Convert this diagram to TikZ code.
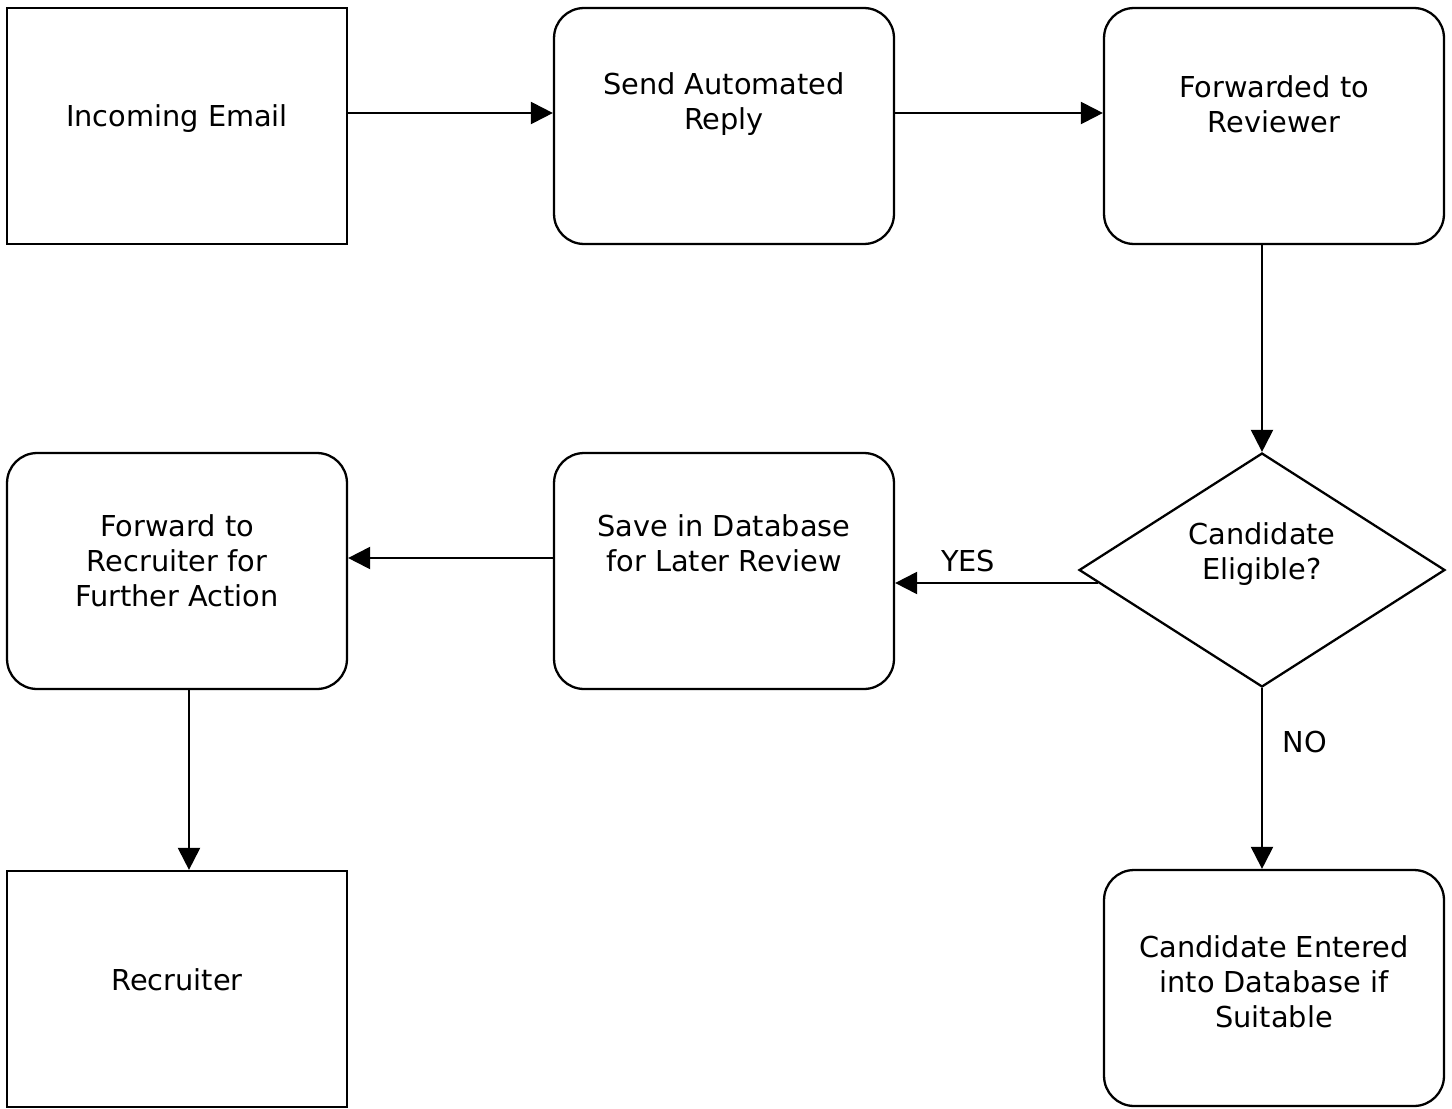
\documentclass[tikz,border=0pt]{standalone}
\usepackage{fontspec}
\setmainfont{DejaVu Sans}
\usetikzlibrary{arrows.meta,shapes.geometric,calc}

\begin{document}
\begin{tikzpicture}[x=0.02cm,y=-0.02cm,
	>={Triangle[length=0.44cm,width=0.44cm]},
	font=\fontsize{16.4}{19.9}\selectfont,
	line width=1.2pt,
	plain/.style={draw,line width=1.3pt,minimum width=6.8cm,minimum height=4.72cm,inner sep=0pt},
	rbox/.style={plain,rounded corners=0.6cm},
	decbox/.style={draw,diamond,line width=1.3pt,minimum width=7.32cm,minimum height=4.68cm,inner sep=0pt},
	txt/.style={align=center,inner sep=0pt}]
	
	\useasboundingbox (0,0) rectangle (1452,1108);
	
	%------------------------------
	% Boxes
	%------------------------------
	\node[plain] (email)     at (177,126)  {};
	\node[rbox]  (reply)     at (724,126)  {};
	\node[rbox]  (review)    at (1274,126) {};
	\node[decbox] (elig)     at (1262,570) {};
	\node[rbox]  (save)      at (724,571)  {};
	\node[rbox]  (fwdrec)    at (177,571)  {};
	\node[plain] (recruiter) at (177,989)  {};
	\node[rbox]  (entered)   at (1274,988) {};
	
	% Texts inside the boxes
	\node[txt] (email-t)     at (177,119)  {Incoming Email};
	\node[txt] (reply-t)     at (724,104)  {Send Automated\\Reply};
	\node[txt] (review-t)    at (1274,104) {Forwarded to\\Reviewer};
	\node[txt] (elig-t)      at (1262,554) {Candidate\\Eligible?};
	\node[txt] (save-t)      at (724,543)  {Save in Database\\for Later Review};
	\node[txt] (fwdrec-t)    at (177,561)  {Forward to\\Recruiter for\\Further Action};
	\node[txt] (recruiter-t) at (177,980)  {Recruiter};
	\node[txt] (entered-t)   at (1274,982) {Candidate Entered\\into Database if\\Suitable};
	
	%------------------------------
	% Connectors
	%------------------------------
	\draw[->] ([yshift=0.26cm]email.east) -- ([yshift=0.26cm]reply.west);
	\draw[->] ([yshift=0.26cm]reply.east) -- ([yshift=0.26cm]review.west);
	\draw[->] (elig.north |- review.south) -- (elig.north);
	
	% YES branch
	\coordinate (yesp) at ($(elig.west)!0.11!(elig.south)$);
	\draw[->] (yesp) -- (yesp -| save.east)
	node[pos=0.64,yshift=0.44cm] (yes) {YES};
	
	\draw[->] ([yshift=0.26cm]save.west) -- ([yshift=0.26cm]fwdrec.east);
	\draw[->] ([xshift=0.24cm]fwdrec.south) -- ([xshift=0.24cm]recruiter.north);
	
	% NO branch
	\draw[->] (elig.south) -- (elig.south |- entered.north)
	node[pos=0.3,xshift=0.86cm] (no) {NO};
	
\end{tikzpicture}
\end{document}
